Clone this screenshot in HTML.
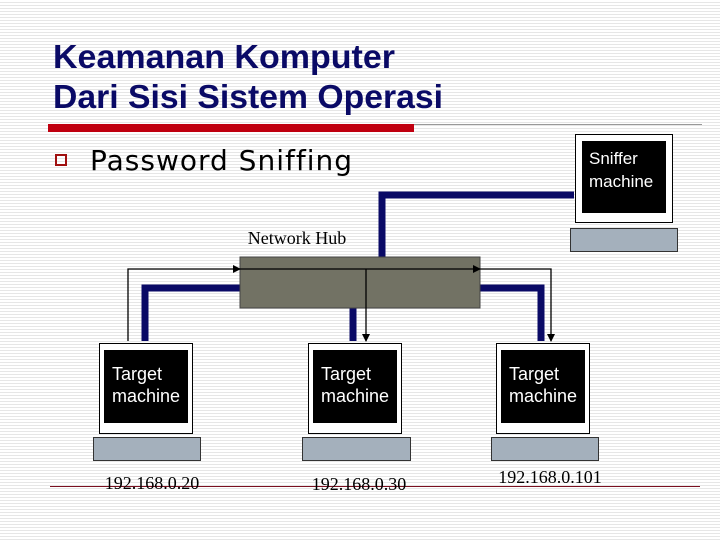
<!DOCTYPE html>
<html><head><meta charset="utf-8"><style>
html,body{margin:0;padding:0}
body{width:720px;height:540px;overflow:hidden;background:#fff repeating-linear-gradient(to bottom,#fff 0,#fff 2px,#e6e6e6 2px,#e6e6e6 3px)}
</style></head><body>
<svg width="720" height="540" xmlns="http://www.w3.org/2000/svg" style="position:absolute;left:0;top:0">
<defs><marker id="a" markerWidth="8" markerHeight="8" refX="7" refY="4" orient="auto" markerUnits="userSpaceOnUse"><path d="M0,0 L8,4 L0,8 z" fill="#000"/></marker></defs>
<g font-family="Liberation Sans, sans-serif" font-weight="bold" font-size="33.5" fill="#0a0a66">
<text x="53" y="68" textLength="342" lengthAdjust="spacingAndGlyphs">Keamanan Komputer</text>
<text x="53" y="108" textLength="390" lengthAdjust="spacingAndGlyphs">Dari Sisi Sistem Operasi</text>
</g>
<line x1="48" y1="124.5" x2="702" y2="124.5" stroke="#999" stroke-width="1"/>
<rect x="48" y="124" width="366" height="8" fill="#c00010"/>
<rect x="56" y="155" width="10" height="10" fill="none" stroke="#a01010" stroke-width="2"/>
<text x="90" y="170" font-family="DejaVu Sans, sans-serif" font-size="28" letter-spacing="1" fill="#000">Password Sniffing</text>
<g stroke="#0a0a66" stroke-width="7" fill="none">
<polyline points="382,257 382,195 574,195"/>
<polyline points="240,288 145,288 145,341"/>
<polyline points="480,288 541,288 541,341"/>
<line x1="353" y1="308" x2="353" y2="341"/>
</g>
<rect x="240" y="257" width="240" height="51" fill="#727264" stroke="#444" stroke-width="1"/>
<text x="297" y="244" font-family="Liberation Serif, serif" font-size="18" text-anchor="middle" fill="#000">Network Hub</text>
<g stroke="#000" stroke-width="1.3" fill="none">
<polyline points="128,341 128,269 240,269" marker-end="url(#a)"/>
<line x1="240" y1="269" x2="480" y2="269" marker-end="url(#a)"/>
<polyline points="480,269 551,269 551,341" marker-end="url(#a)"/>
<line x1="366" y1="269" x2="366" y2="341" marker-end="url(#a)"/>
</g>
<rect x="575.5" y="134.5" width="97" height="88" fill="#fff" stroke="#000"/>
<rect x="582" y="141" width="84" height="72" fill="#000"/>
<rect x="570.5" y="228.5" width="107" height="23" fill="#a4b0bc" stroke="#333"/>
<g font-family="Liberation Sans, sans-serif" font-size="17" fill="#fff">
<text x="589" y="164">Sniffer</text><text x="589" y="187">machine</text>
</g>
<g>
<rect x="99.5" y="343.5" width="93" height="90" fill="#fff" stroke="#000"/>
<rect x="104" y="350" width="84" height="73" fill="#000"/>
<rect x="93.5" y="437.5" width="107" height="23" fill="#a4b0bc" stroke="#333"/>
<rect x="308.5" y="343.5" width="93" height="90" fill="#fff" stroke="#000"/>
<rect x="313" y="350" width="84" height="73" fill="#000"/>
<rect x="302.5" y="437.5" width="108" height="23" fill="#a4b0bc" stroke="#333"/>
<rect x="496.5" y="343.5" width="93" height="90" fill="#fff" stroke="#000"/>
<rect x="501" y="350" width="84" height="73" fill="#000"/>
<rect x="491.5" y="437.5" width="107" height="23" fill="#a4b0bc" stroke="#333"/>
</g>
<g font-family="Liberation Sans, sans-serif" font-size="18" fill="#fff">
<text x="112" y="380">Target</text><text x="112" y="402">machine</text>
<text x="321" y="380">Target</text><text x="321" y="402">machine</text>
<text x="509" y="380">Target</text><text x="509" y="402">machine</text>
</g>
<line x1="50" y1="486.5" x2="700" y2="486.5" stroke="#7a1020" stroke-width="1"/>
<g font-family="Liberation Serif, serif" font-size="18" fill="#000" text-anchor="middle">
<text x="152" y="489">192.168.0.20</text>
<text x="359" y="490">192.168.0.30</text>
<text x="550" y="483">192.168.0.101</text>
</g>
</svg>
</body></html>
